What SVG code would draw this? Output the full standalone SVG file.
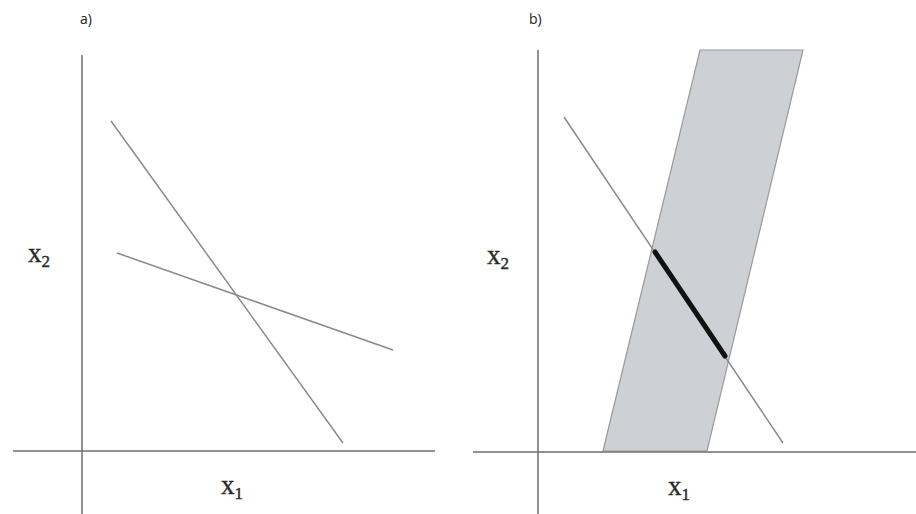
<svg xmlns="http://www.w3.org/2000/svg" width="916" height="514" viewBox="0 0 916 514">
<style>
.axis{stroke:#6e6e6e;stroke-width:1.5;fill:none}
.ln{stroke:#8a8a8a;stroke-width:1.5;fill:none}
.lbl{font-family:"Liberation Serif",serif;font-size:27px;fill:#2a2a2a;stroke:#2a2a2a;stroke-width:0.4}
.sub{font-size:17px}
.tag{font-family:"Open Sans","Liberation Sans",sans-serif;font-size:14px;fill:#222}
</style>
<rect width="916" height="514" fill="#fff"/>
<g id="panel-a">
<text class="tag" x="80" y="24">a)</text>
<line class="axis" x1="82" y1="55" x2="82" y2="514"/>
<line class="axis" x1="13" y1="451" x2="435" y2="451"/>
<line class="ln" x1="111" y1="121" x2="343" y2="443"/>
<line class="ln" x1="117" y1="253" x2="393" y2="350"/>
<text class="lbl" x="28" y="262">x<tspan class="sub" dy="5">2</tspan></text>
<text class="lbl" x="221" y="494">x<tspan class="sub" dy="5">1</tspan></text>
</g>
<g id="panel-b">
<text class="tag" x="529" y="24">b)</text>
<polygon points="700,50 803,50 707,451 603,451" fill="#cdd0d5" stroke="#999" stroke-width="1.2"/>
<line class="axis" x1="538" y1="50" x2="538" y2="514"/>
<line class="axis" x1="473" y1="452" x2="916" y2="452"/>
<line class="ln" x1="564" y1="117" x2="783" y2="443"/>
<line x1="655" y1="252" x2="725" y2="356" stroke="#111" stroke-width="5" stroke-linecap="round"/>
<text class="lbl" x="487" y="264">x<tspan class="sub" dy="5">2</tspan></text>
<text class="lbl" x="668" y="495">x<tspan class="sub" dy="5">1</tspan></text>
</g>
</svg>
